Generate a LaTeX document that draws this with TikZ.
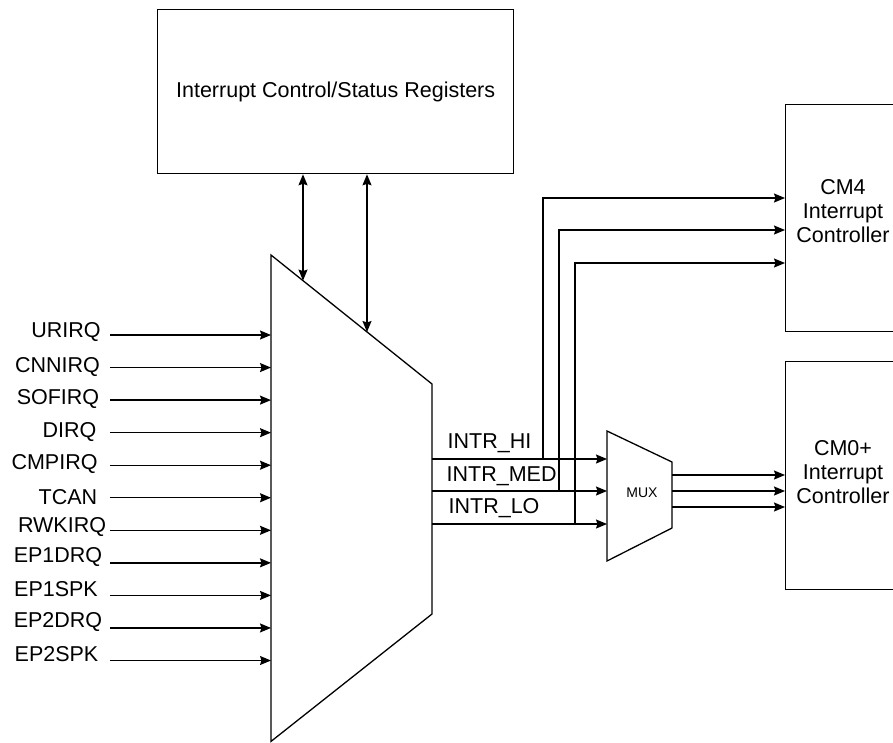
\documentclass[tikz,border=0pt]{standalone}
\usepackage{fontspec}
\setmainfont{Liberation Sans}
\usetikzlibrary{arrows.meta}
\begin{document}
\begin{tikzpicture}[x=1pt,y=-1pt,
  line width=1.3pt,
  tip/.tip={Stealth[length=11pt,width=9pt,inset=1.5pt]},
  arr/.style={-tip},
  darr/.style={tip-tip},
  lbl/.style={font=\fontsize{21.5}{24}\selectfont, inner sep=0pt},
  box/.style={draw, line width=1.3pt, font=\fontsize{21.5}{24}\selectfont, align=center, inner sep=0pt}]
\useasboundingbox (0,0) rectangle (893,742);
\fill[white] (0,0) rectangle (893,742);
\begin{scope}
\clip (0,0) rectangle (893,742);
% boxes
\node[box, minimum width=356pt, minimum height=164pt, anchor=north west] (regs) at (157,9) {Interrupt Control/Status Registers};
\node[box, minimum width=120pt, minimum height=227pt, anchor=north west] (cm4) at (785,104) {};
\node[box, minimum width=120pt, minimum height=228pt, anchor=north west] (cm0) at (785,361) {};
\node[lbl, align=center] (cm4t) at (843,211) {CM4\\Interrupt\\Controller};
\node[lbl, align=center] (cm0t) at (843,472) {CM0+\\Interrupt\\Controller};
% interrupt source trapezoid
\coordinate (tl) at (271,255);
\coordinate (tr) at (432,384);
\coordinate (br) at (432,614);
\coordinate (bl) at (271,741.4);
\draw (tl) -- (tr) -- (br) -- (bl) -- cycle;
% MUX
\coordinate (mtl) at (607,431);
\coordinate (mtr) at (672,462);
\coordinate (mbr) at (672,528);
\coordinate (mbl) at (607,561);
\draw (mtl) -- (mtr) -- (mbr) -- (mbl) -- cycle;
\node[font=\fontsize{14}{16}\selectfont, inner sep=0pt] (muxt) at (642,493) {MUX};
% bidirectional register links
\coordinate (s1) at (303,280.6);
\coordinate (s2) at (367,332);
\draw[darr] (regs.south -| s1) -- (s1);
\draw[darr] (regs.south -| s2) -- (s2);
% inputs
\foreach \i in {0,...,10}{
  \pgfmathsetmacro{\yy}{335+32.55*\i}
  \coordinate (src\i) at (110,\yy);
  \coordinate (dst\i) at (271,\yy);
  \draw[arr] (src\i) -- (dst\i);
}
\foreach \n/\cx/\cy [count=\i from 0] in {URIRQ/66/332,CNNIRQ/57.5/367,SOFIRQ/58/399,DIRQ/69.5/432,CMPIRQ/54.5/464,TCAN/68/497,RWKIRQ/62/527,EP1DRQ/58/557,EP1SPK/56/589,EP2DRQ/58/622,EP2SPK/56.5/654}{
  \node[lbl] (l\i) at (\cx,\cy) {\n};
}
% outputs of trapezoid
\coordinate (ohi) at (432,459);
\coordinate (omed) at (432,491);
\coordinate (olo) at (432,524);
\draw[arr] (ohi) -- (mtl |- ohi);
\draw[arr] (omed) -- (mtl |- omed);
\draw[arr] (olo) -- (mtl |- olo);
\node[lbl, anchor=west] (thi) at (447,443) {INTR\_HI};
\node[lbl, anchor=west] (tmed) at (446,476) {INTR\_MED};
\node[lbl, anchor=west] (tlo) at (448,508) {INTR\_LO};
% taps to CM4
\coordinate (hiT) at (543,459);
\coordinate (medT) at (559,491);
\coordinate (loT) at (575,524);
\draw[arr] (hiT) |- (cm4.west |- 0,198);
\draw[arr] (medT) |- (cm4.west |- 0,230);
\draw[arr] (loT) |- (cm4.west |- 0,263);
% MUX outputs to CM0+
\foreach \yy [count=\i] in {475,491,507}{
  \coordinate (mo\i) at (672,\yy);
  \draw[arr] (mo\i) -- (cm0.west |- mo\i);
}
\end{scope}
\end{tikzpicture}
\end{document}
